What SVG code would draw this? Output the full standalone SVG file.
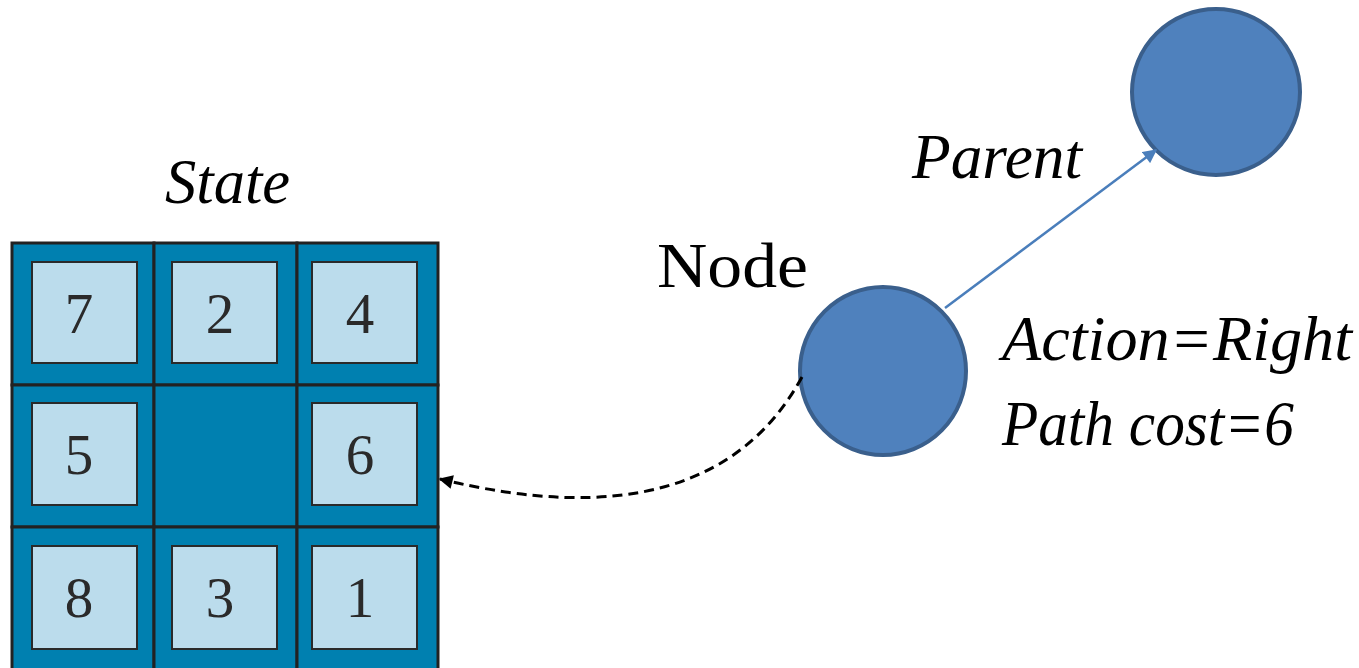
<svg xmlns="http://www.w3.org/2000/svg" width="1359" height="668" viewBox="0 0 1359 668">
<style>
.cell{fill:#0080B0;stroke:#222;stroke-width:3}
.tile{fill:#BBDCEC;stroke:#2a2a2a;stroke-width:2}
.num{font-family:"Liberation Serif",serif;font-size:57px;fill:#2a2a2a;text-anchor:middle}
.it{font-family:"Liberation Serif",serif;font-style:italic;font-size:64px;fill:#000}
.up{font-family:"Liberation Serif",serif;font-size:64px;fill:#000}
.circ{fill:#4F81BD;stroke:#3A5F8C;stroke-width:4}
</style>
<defs>
<marker id="ab" viewBox="0 0 10 10" refX="9" refY="5" markerWidth="15" markerHeight="14" markerUnits="userSpaceOnUse" orient="auto">
<path d="M0,0 L10,5 L0,10 z" fill="#4A7EBB"/>
</marker>
<marker id="ak" viewBox="0 0 10 10" refX="9" refY="5" markerWidth="15" markerHeight="14" markerUnits="userSpaceOnUse" orient="auto">
<path d="M0,0 L10,5 L0,10 z" fill="#000"/>
</marker>
</defs>
<g id="state-board">
<rect class="cell" x="12" y="243" width="142" height="142"/>
<rect class="cell" x="154" y="243" width="143" height="142"/>
<rect class="cell" x="297" y="243" width="141" height="142"/>
<rect class="cell" x="12" y="385" width="142" height="142"/>
<rect class="cell" x="154" y="385" width="143" height="142"/>
<rect class="cell" x="297" y="385" width="141" height="142"/>
<rect class="cell" x="12" y="527" width="142" height="145"/>
<rect class="cell" x="154" y="527" width="143" height="145"/>
<rect class="cell" x="297" y="527" width="141" height="145"/>
<rect class="tile" x="32" y="262" width="105" height="101"/>
<rect class="tile" x="172" y="262" width="105" height="101"/>
<rect class="tile" x="312" y="262" width="105" height="101"/>
<rect class="tile" x="32" y="403" width="105" height="102"/>
<rect class="tile" x="312" y="403" width="105" height="102"/>
<rect class="tile" x="32" y="546" width="105" height="103"/>
<rect class="tile" x="172" y="546" width="105" height="103"/>
<rect class="tile" x="312" y="546" width="105" height="103"/>
<text class="num" x="79" y="333">7</text>
<text class="num" x="220" y="333">2</text>
<text class="num" x="360" y="333">4</text>
<text class="num" x="79" y="474">5</text>
<text class="num" x="360" y="474">6</text>
<text class="num" x="79" y="617">8</text>
<text class="num" x="220" y="617">3</text>
<text class="num" x="360" y="617">1</text>
</g>
<g id="state-label">
<text class="it" x="165" y="203" textLength="125" lengthAdjust="spacingAndGlyphs">State</text>
</g>
<g id="node">
<ellipse class="circ" cx="883" cy="371" rx="83" ry="84"/>
<text class="up" x="657" y="287" textLength="151" lengthAdjust="spacingAndGlyphs">Node</text>
</g>
<g id="parent">
<ellipse class="circ" cx="1216" cy="92" rx="84" ry="83"/>
</g>
<g id="connectors">
<line x1="945" y1="308" x2="1156" y2="150" stroke="#4A7EBB" stroke-width="2.5" marker-end="url(#ab)"/>
<path d="M802,377 Q710,545 440,479" fill="none" stroke="#000" stroke-width="3" stroke-dasharray="10,6" marker-end="url(#ak)"/>
</g>
<g id="labels">
<text class="it" x="912" y="178" textLength="170" lengthAdjust="spacingAndGlyphs">Parent</text>
<text class="it" x="1002" y="360" textLength="350" lengthAdjust="spacingAndGlyphs">Action=Right</text>
<text class="it" x="1002" y="445" textLength="292" lengthAdjust="spacingAndGlyphs">Path cost=6</text>
</g>
</svg>
